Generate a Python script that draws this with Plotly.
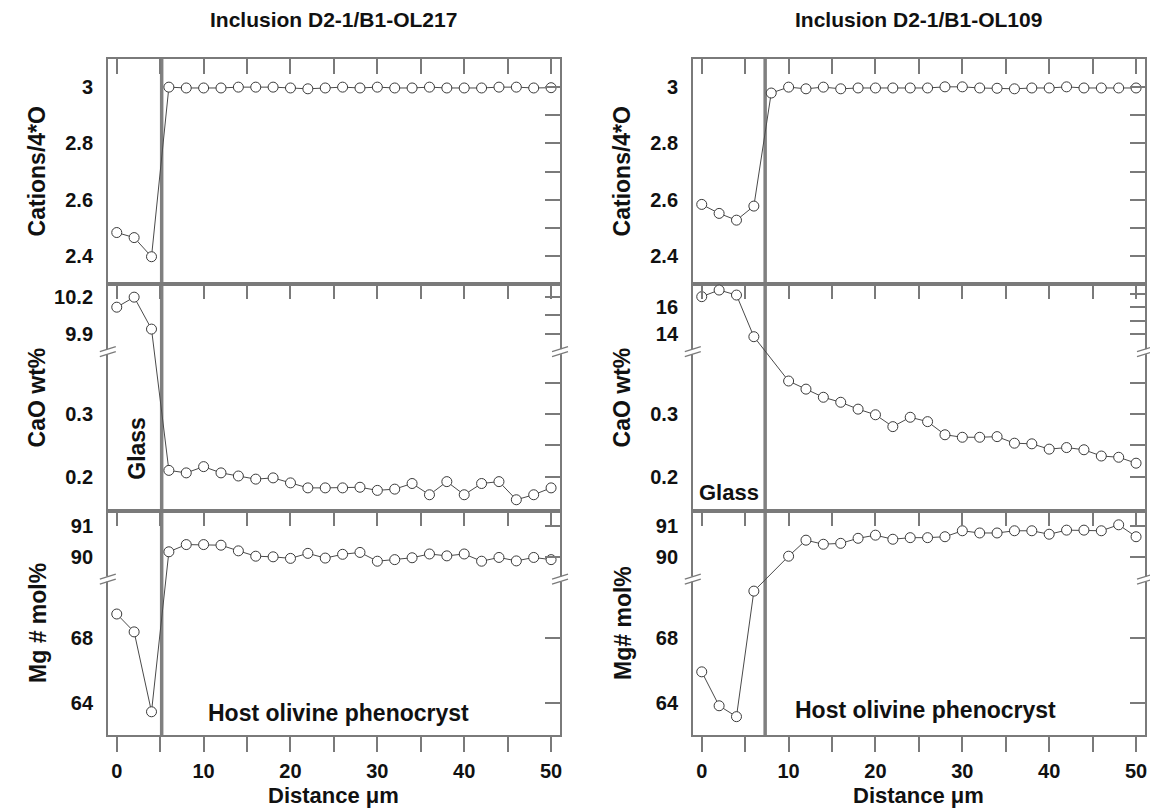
import plotly.graph_objects as go

W, H = 1150, 810
FONT = "Liberation Sans, Arial, sans-serif"

# ---------------- data ----------------
dist_all = [0, 2, 4, 6, 8, 10, 12, 14, 16, 18, 20, 22, 24, 26, 28, 30, 32, 34, 36, 38, 40, 42, 44, 46, 48, 50]
dist_gap = [0, 2, 4, 6, 10, 12, 14, 16, 18, 20, 22, 24, 26, 28, 30, 32, 34, 36, 38, 40, 42, 44, 46, 48, 50]

cat_217 = [2.483, 2.465, 2.397, 3.000, 2.997, 2.997, 2.997, 3.000, 3.000, 3.000, 2.997, 2.994, 2.997,
           3.000, 2.997, 3.000, 2.997, 2.997, 3.000, 2.997, 2.997, 2.997, 3.000, 3.000, 2.997, 2.998]
cao_217 = [10.115, 10.195, 9.94, 0.210, 0.206, 0.216, 0.206, 0.201, 0.196, 0.198, 0.190, 0.182, 0.182,
           0.182, 0.183, 0.178, 0.180, 0.189, 0.171, 0.192, 0.171, 0.189, 0.192, 0.163, 0.171, 0.182]
mg_217 = [69.5, 68.4, 63.48, 90.18, 90.41, 90.41, 90.39, 90.21, 90.04, 90.02, 89.97, 90.13, 89.98,
          90.10, 90.16, 89.88, 89.93, 89.99, 90.11, 90.05, 90.11, 89.88, 90.00, 89.89, 90.00, 89.93]

cat_109 = [2.583, 2.551, 2.527, 2.577, 2.979, 3.000, 2.994, 3.000, 2.994, 2.997, 2.997, 2.997, 2.997,
           2.997, 3.001, 3.001, 2.997, 2.996, 2.994, 2.997, 2.997, 3.001, 2.997, 2.997, 2.997, 2.997]
cao_109 = [16.79, 17.28, 16.91, 13.82, 0.353, 0.340, 0.327, 0.319, 0.308, 0.299, 0.280, 0.295, 0.288,
           0.267, 0.263, 0.263, 0.264, 0.2535, 0.2525, 0.244, 0.2465, 0.243, 0.233, 0.231, 0.2215]
mg_109 = [65.94, 63.85, 63.18, 70.91, 90.04, 90.55, 90.42, 90.45, 90.61, 90.71, 90.58, 90.63, 90.63,
          90.66, 90.85, 90.78, 90.78, 90.85, 90.85, 90.74, 90.87, 90.87, 90.85, 91.04, 90.66]

glass_edge = [5.17, 7.3]
titles = ["Inclusion D2-1/B1-OL217", "Inclusion D2-1/B1-OL109"]
ytitles = [["Cations/4*O", "CaO wt%", "Mg # mol%"], ["Cations/4*O", "CaO wt%", "Mg# mol%"]]
xtick_vals = [0, 10, 20, 30, 40, 50]

# ---------------- geometry (page pixels) ----------------
col_px = [(108, 561), (694, 1147)]
row_px = [(59, 284), (284, 511), (511, 735)]
xr = [-1.03, 51.03]


def X(px):
    return px / W


def Y(py):
    return 1 - py / H


def brk(lo, hi, frac):
    split = (lo[1] + hi[0]) / 2

    def f(v):
        if v <= split:
            return (v - lo[0]) / (lo[1] - lo[0]) * frac
        return frac + (v - hi[0]) / (hi[1] - hi[0]) * (1 - frac)
    return f


def ident(v):
    return v


f_cao217 = brk((0.145, 0.40), (9.76, 10.30), 0.702)
f_cao109 = brk((0.145, 0.40), (12.71, 17.73), 0.702)
f_mg = brk((62.05, 71.65), (89.31, 91.48), 0.696)

panels = [
    dict(col=0, row=0, x=dist_all, y=cat_217, f=ident, rng=[2.30, 3.10],
         lv=[3, 2.8, 2.6, 2.4], lt=["3", "2.8", "2.6", "2.4"],
         rv=[3, 2.9, 2.8, 2.7, 2.6, 2.5, 2.4], brk=None),
    dict(col=0, row=1, x=dist_all, y=cao_217, f=f_cao217, rng=[0, 1],
         lv=[10.2, 9.9, 0.3, 0.2], lt=["10.2", "9.9", "0.3", "0.2"],
         rv=[10.2, 10.05, 9.9, 0.35, 0.3, 0.25, 0.2], brk=0.702),
    dict(col=0, row=2, x=dist_all, y=mg_217, f=f_mg, rng=[0, 1],
         lv=[91, 90, 68, 64], lt=["91", "90", "68", "64"],
         rv=[91, 90, 68, 64], brk=0.696),
    dict(col=1, row=0, x=dist_all, y=cat_109, f=ident, rng=[2.30, 3.10],
         lv=[3, 2.8, 2.6, 2.4], lt=["3", "2.8", "2.6", "2.4"],
         rv=[3, 2.9, 2.8, 2.7, 2.6, 2.5, 2.4], brk=None),
    dict(col=1, row=1, x=dist_gap, y=cao_109, f=f_cao109, rng=[0, 1],
         lv=[16, 14, 0.3, 0.2], lt=["16", "14", "0.3", "0.2"],
         rv=[17, 16, 15, 14, 0.35, 0.3, 0.25, 0.2], brk=0.702),
    dict(col=1, row=2, x=dist_gap, y=mg_109, f=f_mg, rng=[0, 1],
         lv=[91, 90, 68, 64], lt=["91", "90", "68", "64"],
         rv=[91, 90, 68, 64], brk=0.696),
]

FRAME = "#7a7a7a"
TICKC = "#7a7a7a"
tickfont = dict(family=FONT, size=20, color="#111", weight="bold")

fig = go.Figure()
layout = dict(
    width=W, height=H,
    margin=dict(l=0, r=0, t=0, b=0),
    paper_bgcolor="white",
    plot_bgcolor="rgba(0,0,0,0)",
    showlegend=False,
    shapes=[], annotations=[],
)

for i, p in enumerate(panels):
    n = i + 1
    t = i + 7
    c, r = p["col"], p["row"]
    xd = [X(col_px[c][0]), X(col_px[c][1])]
    yd = [Y(row_px[r][1]), Y(row_px[r][0])]
    f = p["f"]
    xname = "x" if n == 1 else f"x{n}"
    yname = "y" if n == 1 else f"y{n}"

    xa = dict(domain=xd, anchor=yname, range=xr, showgrid=False, zeroline=False,
              showline=True, mirror=True, linecolor=FRAME, linewidth=1.5)
    if r == 2:
        xa.update(ticks="outside", ticklen=15, tickwidth=1.5, tickcolor=TICKC,
                  tickmode="array", tickvals=xtick_vals, ticktext=[str(v) for v in xtick_vals],
                  tickfont=tickfont, showticklabels=True, ticklabelstandoff=2,
                  minor=dict(tickmode="array", tickvals=[5, 15, 25, 35, 45], ticks="outside",
                             ticklen=15, tickwidth=1.5, tickcolor=TICKC))
    else:
        xa.update(ticks="", showticklabels=False)
    layout["xaxis" if n == 1 else f"xaxis{n}"] = xa

    layout[f"xaxis{t}"] = dict(overlaying=xname, side="top", anchor=yname,
                               range=xr, showgrid=False, zeroline=False, showline=False,
                               ticks="inside", ticklen=15, tickwidth=1.5, tickcolor=TICKC,
                               tickmode="array", tickvals=list(range(0, 51, 5)),
                               showticklabels=False)

    layout["yaxis" if n == 1 else f"yaxis{n}"] = dict(
        domain=yd, anchor=xname, range=p["rng"], showgrid=False,
        zeroline=False, showline=True, mirror=True, linecolor=FRAME, linewidth=1.5,
        tickmode="array", tickvals=[f(v) for v in p["lv"]], ticktext=p["lt"],
        ticks="outside", ticklen=9, tickcolor="rgba(0,0,0,0)", tickfont=tickfont)

    layout[f"yaxis{t}"] = dict(
        overlaying=yname, side="right", anchor=xname,
        range=p["rng"], showgrid=False, zeroline=False, showline=False,
        tickmode="array", tickvals=[f(v) for v in p["rv"]], ticks="inside", ticklen=15,
        tickwidth=1.5, tickcolor=TICKC, showticklabels=False)

    fig.add_trace(go.Scatter(x=[None], y=[None], xaxis=f"x{t}", yaxis=f"y{t}",
                             showlegend=False, hoverinfo="skip"))

    fig.add_trace(go.Scatter(
        x=p["x"], y=[f(v) for v in p["y"]], mode="lines+markers",
        xaxis=xname, yaxis=yname,
        line=dict(color="#4a4a4a", width=1),
        marker=dict(symbol="circle", size=10, color="white", line=dict(color="#3a3a3a", width=1)),
        cliponaxis=False, showlegend=False))

    ytx = col_px[c][0] - 70
    layout["annotations"].append(dict(
        x=X(ytx), y=(yd[0] + yd[1]) / 2, xref="paper", yref="paper", text=f"<b>{ytitles[c][r]}</b>",
        textangle=-90, showarrow=False, xanchor="center", yanchor="middle",
        font=dict(family=FONT, size=23, color="#111")))

    if p["brk"] is not None:
        by_px = row_px[r][1] - p["brk"] * (row_px[r][1] - row_px[r][0])
        for fx in col_px[c]:
            layout["shapes"].append(dict(type="rect", xref="paper", yref="paper",
                                         x0=X(fx - 3), x1=X(fx + 3), y0=Y(by_px + 2.5), y1=Y(by_px - 2.5),
                                         fillcolor="white", line=dict(width=0), layer="above"))
            for d in (-2.5, 2.5):
                layout["shapes"].append(dict(type="line", xref="paper", yref="paper",
                                             x0=X(fx - 8), y0=Y(by_px + d + 2.5),
                                             x1=X(fx + 8), y1=Y(by_px + d - 2.5),
                                             line=dict(color=FRAME, width=1.2), layer="above"))

for c in range(2):
    xref = "x" if c == 0 else "x4"
    layout["shapes"].append(dict(type="line", xref=xref, yref="paper",
                                 x0=glass_edge[c], x1=glass_edge[c],
                                 y0=Y(row_px[2][1]), y1=Y(row_px[0][0]),
                                 line=dict(color="#808080", width=3.5), layer="below"))

for c in range(2):
    cx = (col_px[c][0] + col_px[c][1]) / 2
    layout["annotations"].append(dict(
        x=X(cx), y=Y(19), xref="paper", yref="paper", text=f"<b>{titles[c]}</b>",
        showarrow=False, xanchor="center", yanchor="middle",
        font=dict(family=FONT, size=21, color="#111")))
    layout["annotations"].append(dict(
        x=X(cx), y=Y(795), xref="paper", yref="paper", text="<b>Distance μm</b>",
        showarrow=False, xanchor="center", yanchor="middle",
        font=dict(family=FONT, size=22, color="#111")))

layout["annotations"].append(dict(
    x=X(137), y=Y(448), xref="paper", yref="paper", text="<b>Glass</b>", textangle=-90,
    showarrow=False, xanchor="center", yanchor="middle", font=dict(family=FONT, size=23, color="#111")))
layout["annotations"].append(dict(
    x=X(730), y=Y(492), xref="paper", yref="paper", text="<b>Glass</b>",
    showarrow=False, xanchor="center", yanchor="middle", font=dict(family=FONT, size=22, color="#111")))
layout["annotations"].append(dict(
    x=25.5, y=Y(713), xref="x3", yref="paper", text="<b>Host olivine phenocryst</b>",
    showarrow=False, xanchor="center", yanchor="middle", font=dict(family=FONT, size=23, color="#111")))
layout["annotations"].append(dict(
    x=25.8, y=Y(710), xref="x6", yref="paper", text="<b>Host olivine phenocryst</b>",
    showarrow=False, xanchor="center", yanchor="middle", font=dict(family=FONT, size=23, color="#111")))

fig.update_layout(**layout)
fig.write_html("out.html",
               config={"displayModeBar": False},
               post_script="document.body.style.margin='0';"
                           "document.documentElement.style.overflow='hidden';")
